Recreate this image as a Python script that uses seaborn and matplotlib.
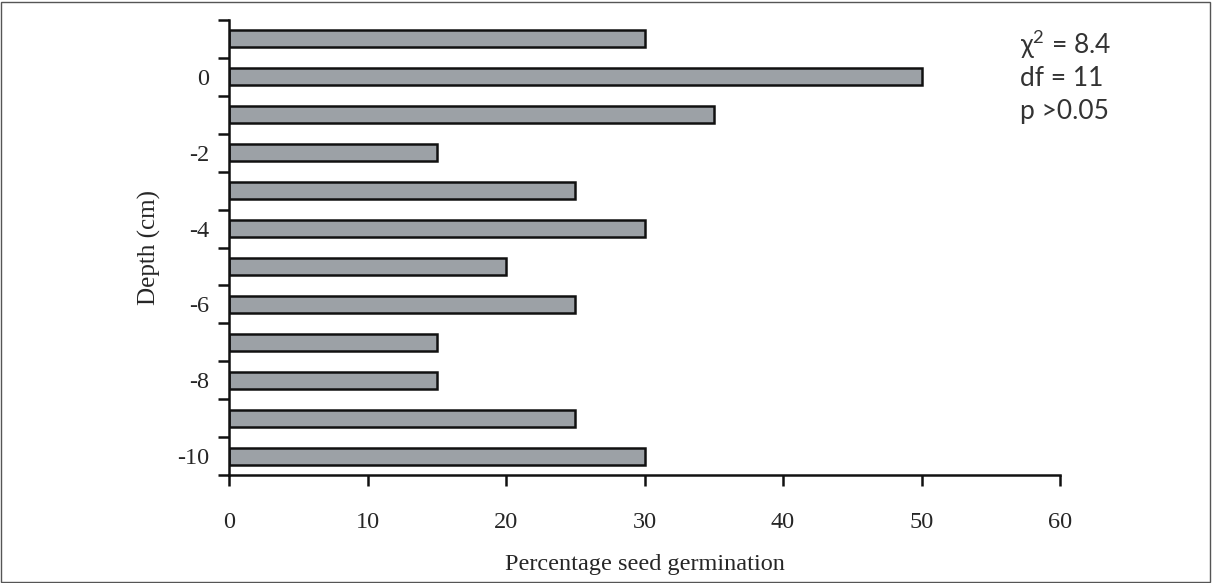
import matplotlib
matplotlib.use("Agg")
import matplotlib.pyplot as plt
from matplotlib.patches import Rectangle
import seaborn as sns
import pandas as pd
import numpy as np

depths = [1, 0, -1, -2, -3, -4, -5, -6, -7, -8, -9, -10]
germination = [30, 50, 35, 15, 25, 30, 20, 25, 15, 15, 25, 30]
x_ticks = [0, 10, 20, 30, 40, 50, 60]

sns.set_theme(style="white")
plt.rcParams['font.family'] = ['Liberation Serif', 'DejaVu Serif']
plt.rcParams['mathtext.fontset'] = 'custom'
plt.rcParams['mathtext.rm'] = 'Lato'
plt.rcParams['mathtext.it'] = 'Lato'
plt.rcParams['mathtext.default'] = 'regular'

df = pd.DataFrame({"depth": [str(d) for d in depths], "germ": germination})

fig = plt.figure(figsize=(12.12, 5.83), dpi=100)
ax = fig.add_axes([229/1212, 1 - 475/583, (1060-229)/1212, (475-20)/583])

sns.barplot(data=df, x="germ", y="depth", order=[str(d) for d in depths],
            orient="h", color="#9ca1a6", edgecolor="#111111", linewidth=1.8,
            width=0.45, saturation=1, ax=ax)

ax.set_xlim(0, 60)
ax.set_ylim(len(depths) - 0.5, -0.5)
ax.set_xticks(x_ticks)
ax.set_xticklabels([str(t) for t in x_ticks], fontsize=17.5)
labels = [str(d) if d % 2 == 0 else "" for d in depths]
ax.set_yticks(range(len(depths)))
ax.set_yticklabels(labels, fontsize=17.5)
ax.set_yticks(np.arange(-0.5, len(depths), 1.0), minor=True)
ax.tick_params(axis="y", which="major", length=0, pad=14)
ax.tick_params(axis="y", which="minor", length=8, width=1.8, color="#111111", direction="out", left=True)
ax.tick_params(axis="x", which="major", length=8, width=1.8, color="#111111", direction="out", bottom=True, pad=19)

for s in ["top", "right"]:
    ax.spines[s].set_visible(False)
for s in ["left", "bottom"]:
    ax.spines[s].set_color("#111111")
    ax.spines[s].set_linewidth(1.8)

ax.set_xlabel("Percentage seed germination", fontsize=17.5, labelpad=15)
ax.set_ylabel("Depth (cm)", fontsize=18, labelpad=12)

ann_font = dict(family=['Lato', 'DejaVu Sans'], fontweight='normal', fontsize=19, color="#333333")
fig.text(1020/1212, 1 - 45/583, "χ$^{2}$ = 8.4", va="center", ha="left", **ann_font)
fig.text(1020/1212, 1 - 78/583, "df = 11", va="center", ha="left", **ann_font)
fig.text(1020/1212, 1 - 111/583, "p >0.05", va="center", ha="left", **ann_font)

fig.patches.append(Rectangle((1/1212, 1/583), 1 - 3/1212, 1 - 3/583, transform=fig.transFigure,
                             fill=False, edgecolor="#555555", linewidth=1))

fig.savefig("out.png", dpi=100)
